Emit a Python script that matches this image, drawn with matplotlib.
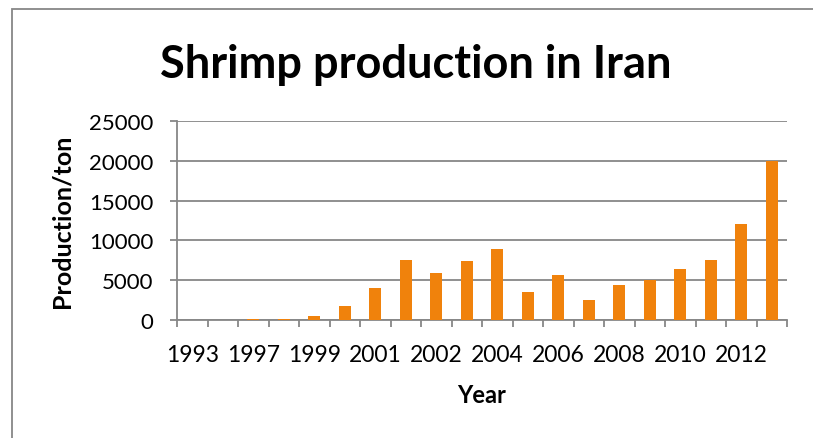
import matplotlib
matplotlib.use("Agg")
import matplotlib.pyplot as plt
from matplotlib.patches import Rectangle
from matplotlib.ticker import FixedLocator, NullFormatter

# ---- data ----
categories = ["1993", "1996", "1997", "1998", "1999", "2000", "2001", "2001b",
              "2002", "2003", "2004", "2005", "2006", "2007", "2008", "2009",
              "2010", "2011", "2012", "2013"]
production = [0, 30, 130, 130, 470, 1810, 4000, 7570, 5930, 7440,
              8870, 3530, 5680, 2480, 4370, 5050, 6350, 7570, 12000, 20000]
shown_labels = ["1993", "1997", "1999", "2001", "2002", "2004", "2006", "2008", "2010", "2012"]
y_ticks = [0, 5000, 10000, 15000, 20000, 25000]

title = "Shrimp production in Iran"
xlabel = "Year"
ylabel = "Production/ton"

font = "Lato"
gray = "#878787"
orange = "#F0820C"

W, H = 813, 439
fig = plt.figure(figsize=(W / 100, H / 100), dpi=100)
fig.patch.set_facecolor("white")

ax = fig.add_axes([177 / W, 1 - 321 / H, 610 / W, 199 / H])
x = list(range(len(categories)))
ax.bar(x, production, width=0.39, color=orange, zorder=3)

ax.set_xlim(-0.5, len(categories) - 0.5)
ax.set_ylim(0, 25000)

for s in ["top", "right"]:
    ax.spines[s].set_visible(False)
for s in ["left", "bottom"]:
    ax.spines[s].set_color(gray)
    ax.spines[s].set_linewidth(1.3)

ax.set_yticks(y_ticks)
ax.set_yticklabels([str(v) for v in y_ticks], fontsize=16, family=font)
ax.yaxis.grid(True, color=gray, linewidth=1.3, zorder=0)
ax.tick_params(axis="y", length=5, width=1.3, color=gray, pad=12)

major = list(range(0, len(categories), 2))
ax.set_xticks(major)
ax.set_xticklabels(shown_labels, fontsize=16.5, family=font)
ax.tick_params(axis="x", which="major", length=0, pad=17)
ax.xaxis.set_minor_locator(FixedLocator([i - 0.5 for i in range(len(categories) + 1)]))
ax.xaxis.set_minor_formatter(NullFormatter())
ax.tick_params(axis="x", which="minor", length=5, width=1.3, color=gray)

ax.set_xlabel(xlabel, fontsize=17, fontweight="bold", family=font, labelpad=13)
ax.set_ylabel(ylabel, fontsize=18, fontweight="bold", family=font)
ax.yaxis.set_label_coords((74 - 177) / 610, 0.5)

fig.text(416 / W, 1 - 65 / H, title, fontsize=32.5, fontweight="bold", family=font,
         ha="center", va="center")

# outer chart border: only its left and top edges fall inside the image
fig.add_artist(Rectangle((12 / W, -0.2), 1.5, 1.2 - 10 / H, transform=fig.transFigure,
                         fill=False, edgecolor=gray, linewidth=1.3))

fig.savefig("out.png", dpi=100)
